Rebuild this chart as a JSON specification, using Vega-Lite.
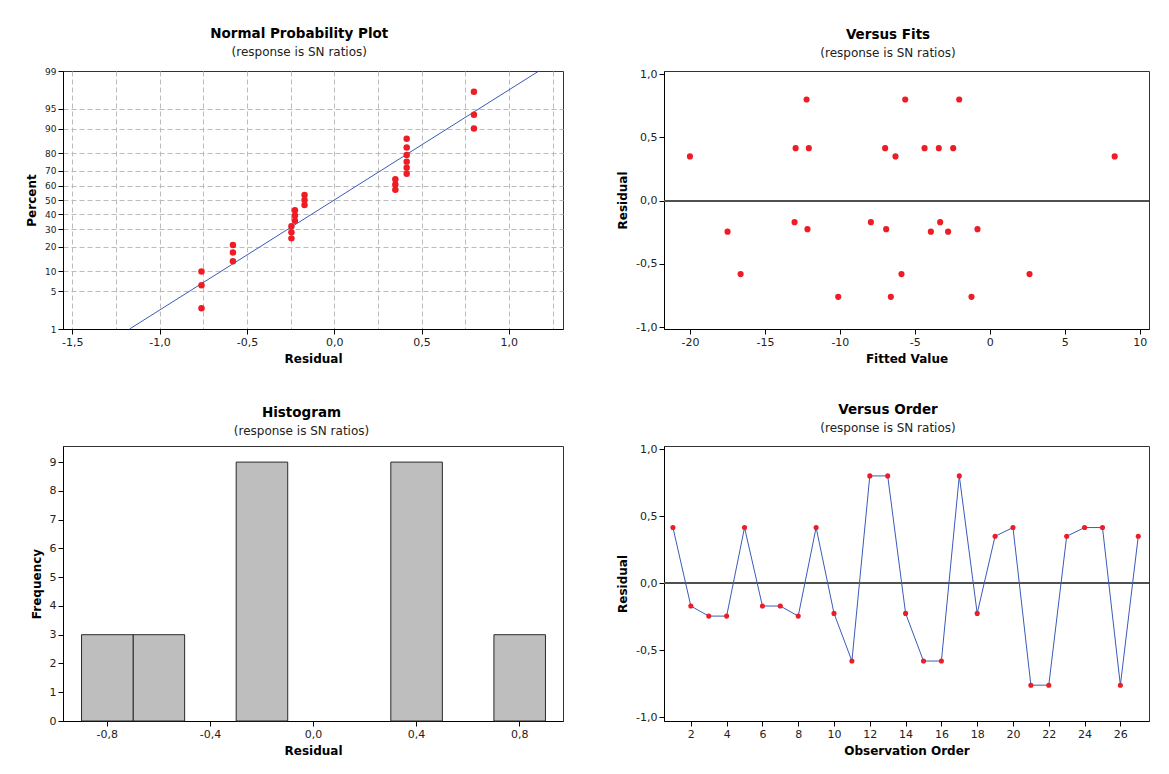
{
  "$schema": "https://vega.github.io/schema/vega-lite/v6.json",
  "background": "white",
  "padding": {"left": 25, "top": 26, "right": 5, "bottom": 5},
  "datasets": {
    "obs": [
      {"order": 1, "fit": -12.95, "resid": 0.415, "nscore": 0.475},
      {"order": 2, "fit": -13.02, "resid": -0.17, "nscore": -0.0916},
      {"order": 3, "fit": -17.49, "resid": -0.245, "nscore": -0.692},
      {"order": 4, "fit": -3.93, "resid": -0.245, "nscore": -0.58},
      {"order": 5, "fit": -12.07, "resid": 0.415, "nscore": 0.58},
      {"order": 6, "fit": -7.93, "resid": -0.17, "nscore": 0},
      {"order": 7, "fit": -3.31, "resid": -0.17, "nscore": 0.0916},
      {"order": 8, "fit": -2.78, "resid": -0.245, "nscore": -0.475},
      {"order": 9, "fit": -6.98, "resid": 0.415, "nscore": 0.692},
      {"order": 10, "fit": -12.16, "resid": -0.225, "nscore": -0.3745},
      {"order": 11, "fit": -16.62, "resid": -0.58, "nscore": -1.103},
      {"order": 12, "fit": -12.22, "resid": 0.8, "nscore": 1.29},
      {"order": 13, "fit": -5.64, "resid": 0.8, "nscore": 1.538},
      {"order": 14, "fit": -6.91, "resid": -0.225, "nscore": -0.278},
      {"order": 15, "fit": -5.89, "resid": -0.58, "nscore": -0.948},
      {"order": 16, "fit": 2.65, "resid": -0.58, "nscore": -0.813},
      {"order": 17, "fit": -2.04, "resid": 0.8, "nscore": 1.951},
      {"order": 18, "fit": -0.82, "resid": -0.225, "nscore": -0.184},
      {"order": 19, "fit": -20.0, "resid": 0.35, "nscore": 0.184},
      {"order": 20, "fit": -4.35, "resid": 0.415, "nscore": 0.813},
      {"order": 21, "fit": -10.11, "resid": -0.76, "nscore": -1.951},
      {"order": 22, "fit": -6.6, "resid": -0.76, "nscore": -1.538},
      {"order": 23, "fit": -6.29, "resid": 0.35, "nscore": 0.278},
      {"order": 24, "fit": -3.4, "resid": 0.415, "nscore": 0.948},
      {"order": 25, "fit": -2.44, "resid": 0.415, "nscore": 1.103},
      {"order": 26, "fit": -1.22, "resid": -0.76, "nscore": -1.29},
      {"order": 27, "fit": 8.33, "resid": 0.35, "nscore": 0.3745}
    ],
    "npline": [
      {"resid": -1.172, "nscore": -2.3263},
      {"resid": 1.172, "nscore": 2.3263}
    ]
  },
  "concat": [
    {
      "title": {"text": "Normal Probability Plot", "subtitle": "(response is SN ratios)"},
      "width": 500,
      "height": 258,
      "layer": [
        {
          "data": {"name": "npline"},
          "mark": {"type": "line", "color": "#3A5BB8", "strokeWidth": 1},
          "encoding": {
            "x": {"field": "resid", "type": "quantitative",
              "scale": {"domain": [-1.553, 1.31], "nice": false, "zero": false},
              "axis": {"title": "Residual", "grid": true, "gridDash": [5, 3], "gridColor": "#BBBBBB", "tickCount": 40,
                "values": [-1.5, -1.25, -1.0, -0.75, -0.5, -0.25, 0, 0.25, 0.5, 0.75, 1.0, 1.25],
                "labelExpr": "abs(datum.value*2 - round(datum.value*2)) < 0.001 ? replace(replace(format(datum.value, '.1f'), '.', ','), '\u2212', '-') : ''",
                "tickOpacity": {"condition": {"test": "abs(datum.value*2 - round(datum.value*2)) > 0.001", "value": 0}, "value": 1}}},
            "y": {"field": "nscore", "type": "quantitative",
              "scale": {"domain": [-2.3263, 2.3263], "nice": false, "zero": false},
              "axis": {"title": "Percent", "grid": true, "gridDash": [5, 3], "gridColor": "#BBBBBB", "labelFontSize": 9, "tickCount": 40,
                "gridOpacity": {"condition": {"test": "abs(datum.value) > 2.3", "value": 0}, "value": 1},
                "values": [-2.3263, -1.6449, -1.2816, -0.8416, -0.5244, -0.2533, 0, 0.2533, 0.5244, 0.8416, 1.2816, 1.6449, 2.3263],
                "labelExpr": "format(round(cumulativeNormal(datum.value)*100), 'd')"}}
          }
        },
        {
          "data": {"name": "obs"},
          "mark": {"type": "circle", "color": "#EE1C25", "size": 42, "opacity": 1},
          "encoding": {
            "x": {"field": "resid", "type": "quantitative"},
            "y": {"field": "nscore", "type": "quantitative"}
          }
        }
      ]
    },
    {
      "title": {"text": "Versus Fits", "subtitle": "(response is SN ratios)"},
      "width": 485,
      "height": 258,
      "data": {"name": "obs"},
      "layer": [
        {
          "mark": {"type": "rule", "color": "#505050", "strokeWidth": 1},
          "encoding": {"y": {"datum": 0, "type": "quantitative"}}
        },
        {
          "mark": {"type": "circle", "color": "#EE1C25", "size": 38, "opacity": 1},
          "encoding": {
            "x": {"field": "fit", "type": "quantitative",
              "scale": {"domain": [-21.73, 10.62], "nice": false, "zero": false},
              "axis": {"title": "Fitted Value", "values": [-20, -15, -10, -5, 0, 5, 10], "tickCount": 40,
                "labelExpr": "replace(format(datum.value, 'd'), '\u2212', '-')"}},
            "y": {"field": "resid", "type": "quantitative",
              "scale": {"domain": [-1.014, 1.025], "nice": false, "zero": false},
              "axis": {"title": "Residual", "values": [-1, -0.5, 0, 0.5, 1], "tickCount": 40,
                "labelExpr": "replace(replace(format(datum.value, '.1f'), '.', ','), '\u2212', '-')"}}
          }
        }
      ]
    },
    {
      "title": {"text": "Histogram", "subtitle": "(response is SN ratios)"},
      "width": 500,
      "height": 275,
      "data": {"name": "obs"},
      "mark": {"type": "bar", "color": "#BEBEBE", "stroke": "#2A2A2A", "strokeWidth": 1, "binSpacing": 0},
      "encoding": {
        "x": {"field": "resid", "type": "quantitative", "bin": {"extent": [-0.9, 0.9], "step": 0.2, "nice": false},
          "scale": {"domain": [-0.97, 0.97], "nice": false, "zero": false},
          "axis": {"title": "Residual", "values": [-0.8, -0.4, 0, 0.4, 0.8], "tickCount": 40,
            "labelExpr": "replace(replace(format(datum.value, '.1f'), '.', ','), '\u2212', '-')"}},
        "y": {"aggregate": "count", "type": "quantitative",
          "scale": {"domain": [0, 9.56], "nice": false},
          "axis": {"title": "Frequency", "values": [0, 1, 2, 3, 4, 5, 6, 7, 8, 9], "format": "d", "tickCount": 40}}
      }
    },
    {
      "title": {"text": "Versus Order", "subtitle": "(response is SN ratios)"},
      "width": 485,
      "height": 275,
      "data": {"name": "obs"},
      "layer": [
        {
          "mark": {"type": "rule", "color": "#505050", "strokeWidth": 1},
          "encoding": {"y": {"datum": 0, "type": "quantitative"}}
        },
        {
          "mark": {"type": "line", "color": "#3A5BB8", "strokeWidth": 1},
          "encoding": {
            "x": {"field": "order", "type": "quantitative",
              "scale": {"domain": [0.5, 27.6], "nice": false, "zero": false},
              "axis": {"title": "Observation Order", "values": [2, 4, 6, 8, 10, 12, 14, 16, 18, 20, 22, 24, 26], "format": "d", "tickCount": 40}},
            "y": {"field": "resid", "type": "quantitative",
              "scale": {"domain": [-1.027, 1.023], "nice": false, "zero": false},
              "axis": {"title": "Residual", "values": [-1, -0.5, 0, 0.5, 1], "tickCount": 40,
                "labelExpr": "replace(replace(format(datum.value, '.1f'), '.', ','), '\u2212', '-')"}}
          }
        },
        {
          "mark": {"type": "circle", "color": "#EE1C25", "size": 26, "opacity": 1},
          "encoding": {
            "x": {"field": "order", "type": "quantitative"},
            "y": {"field": "resid", "type": "quantitative"}
          }
        }
      ]
    }
  ],
  "columns": 2,
  "spacing": {"row": 20, "column": 52},
  "align": "all",
  "bounds": "full",
  "config": {
    "font": "DejaVu Sans",
    "view": {"stroke": "#333333", "strokeWidth": 1},
    "axis": {
      "labelFont": "DejaVu Sans", "labelFontSize": 11, "labelColor": "#222222", "labelOverlap": false,
      "titleFont": "DejaVu Sans", "titleFontSize": 12, "titleFontWeight": "bold", "titleColor": "#000000",
      "domainColor": "#000000", "tickColor": "#000000", "tickSize": 5, "labelPadding": 2, "titlePadding": 6, "grid": false
    },
    "title": {
      "font": "DejaVu Sans", "fontSize": 13.5, "fontWeight": "bold", "color": "#000000",
      "subtitleFont": "DejaVu Sans", "subtitleFontSize": 12, "subtitleColor": "#222222",
      "anchor": "middle", "frame": "bounds", "dx": 5, "offset": 9, "subtitlePadding": 7
    }
  }
}
